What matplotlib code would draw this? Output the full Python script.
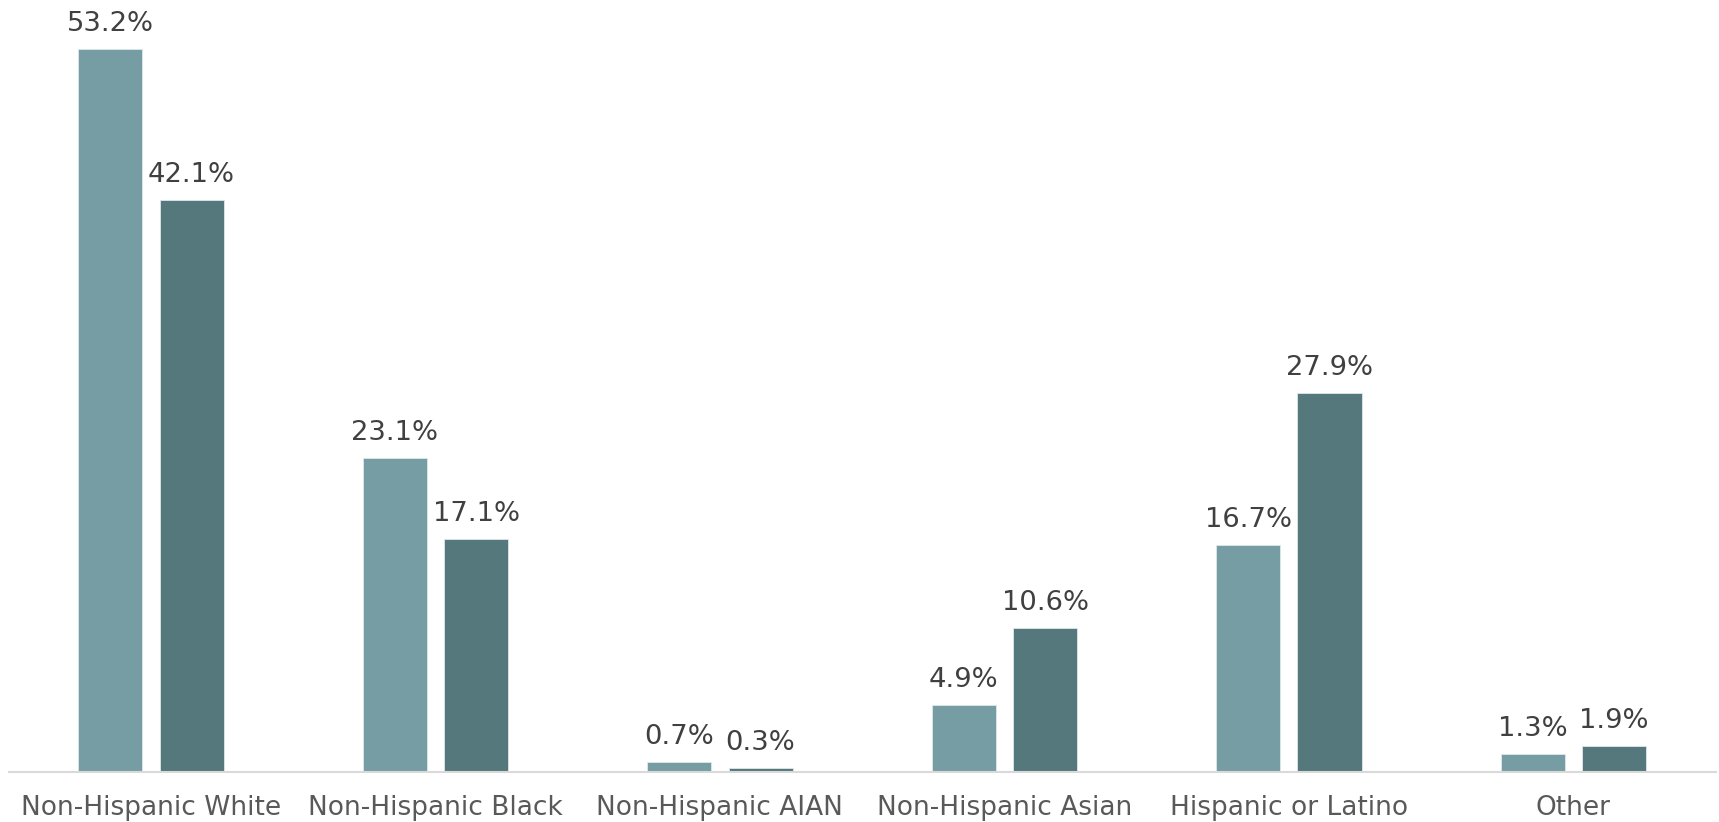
import numpy as np
import matplotlib
matplotlib.use("Agg")
import matplotlib.pyplot as plt

categories = ["Non-Hispanic White", "Non-Hispanic Black", "Non-Hispanic AIAN",
              "Non-Hispanic Asian", "Hispanic or Latino", "Other"]
series_a = [53.2, 23.1, 0.7, 4.9, 16.7, 1.3]
series_b = [42.1, 17.1, 0.3, 10.6, 27.9, 1.9]

COLOR_A = "#769DA3"
COLOR_B = "#55787C"

plt.rcParams["font.family"] = ["DejaVu Sans"]

fig = plt.figure(figsize=(17.19, 8.22), dpi=100)
ax = fig.add_axes([0.005, 0.061, 0.993, 0.939])

x = np.arange(len(categories))
w = 0.225
off = 0.143
bars_a = ax.bar(x - off, series_a, w, color=COLOR_A, edgecolor="#dfe8ea", linewidth=0.6)
bars_b = ax.bar(x + off, series_b, w, color=COLOR_B, edgecolor="#dfe8ea", linewidth=0.6)

for bars, vals in [(bars_a, series_a), (bars_b, series_b)]:
    for b, v in zip(bars, vals):
        ax.annotate(f"{v:.1f}%", (b.get_x() + b.get_width() / 2, v),
                    xytext=(0, 12), textcoords="offset pixels",
                    ha="center", va="bottom", fontsize=19.7, color="#404040")

ax.set_xlim(-0.5, 5.5)
ax.set_ylim(0, 56.8)
ax.set_xticks(x)
ax.set_xticklabels(categories, fontsize=19, color="#595959")
ax.tick_params(axis="x", length=0, pad=17)
ax.set_yticks([])
for s in ["top", "left", "right"]:
    ax.spines[s].set_visible(False)
ax.spines["bottom"].set_color("#d9d9d9")
ax.spines["bottom"].set_linewidth(1.5)

fig.savefig("out.png", dpi=100)
